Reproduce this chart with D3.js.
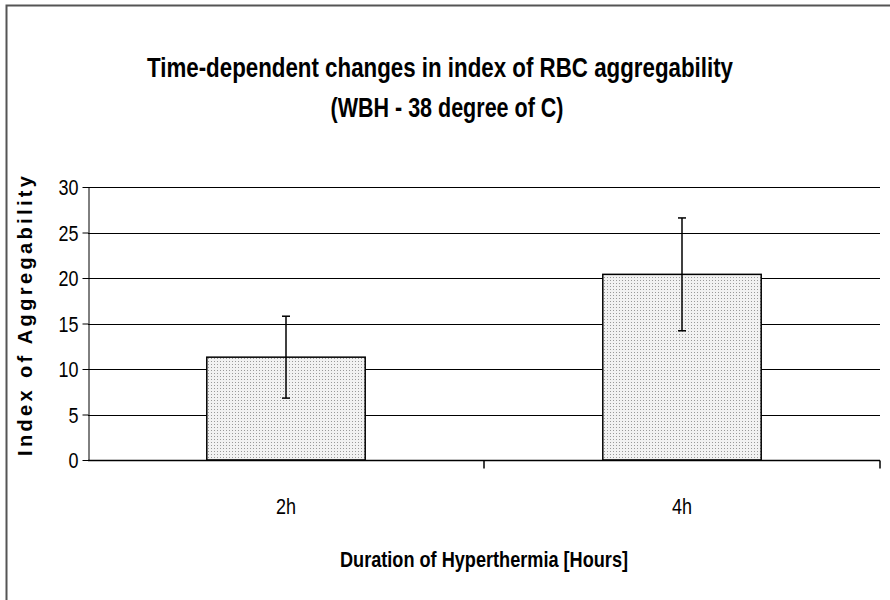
<!DOCTYPE html>
<html>
<head>
<meta charset="utf-8">
<script src="https://cdn.jsdelivr.net/npm/d3@7"></script>
<style>
  body { margin: 0; background: #fff; }
  svg { display: block; }
</style>
</head>
<body>
<svg id="chart" width="890" height="600"></svg>
<script>
// data
var categories = ['2h', '4h'];
var means = [11.3, 20.4];
var errors = [4.5, 6.2];
var yTicks = [0, 5, 10, 15, 20, 25, 30];

var narrow = '"Liberation Sans Narrow", "Arial Narrow", "Liberation Sans", Arial, sans-serif';

var svg = d3.select('#chart');
var plotLeft = 88, plotRight = 880, plotTop = 187, plotBottom = 460;

// outer frame (right / bottom edges fall outside the picture)
svg.append('rect')
    .attr('x', 6.5).attr('y', 5.5)
    .attr('width', 900).attr('height', 700)
    .attr('fill', 'none').attr('stroke', '#555').attr('stroke-width', 2);

var defs = svg.append('defs');
var pat = defs.append('pattern')
    .attr('id', 'dots').attr('patternUnits', 'userSpaceOnUse')
    .attr('width', 3).attr('height', 3);
pat.append('rect').attr('width', 3).attr('height', 3).attr('fill', '#f2f2f2');
pat.append('rect').attr('x', 1).attr('y', 1).attr('width', 1).attr('height', 1).attr('fill', '#9a9a9a');

var x = d3.scaleBand().domain(categories).range([plotLeft, plotRight]).padding(0);
var y = d3.scaleLinear().domain([0, 30]).range([plotBottom, plotTop]);

// gridlines
svg.append('g').selectAll('line').data(yTicks.slice(1)).join('line')
    .attr('x1', plotLeft).attr('x2', plotRight)
    .attr('y1', function(d) { return Math.round(y(d)) + 0.5; })
    .attr('y2', function(d) { return Math.round(y(d)) + 0.5; })
    .attr('stroke', '#000').attr('stroke-width', 1);

// bars
var barW = x.bandwidth() * 0.4;
svg.append('g').selectAll('rect').data(categories).join('rect')
    .attr('x', function(d) { return x(d) + (x.bandwidth() - barW) / 2; })
    .attr('y', function(d, i) { return y(means[i]); })
    .attr('width', barW)
    .attr('height', function(d, i) { return y(0) - y(means[i]); })
    .attr('fill', 'url(#dots)')
    .attr('stroke', '#000').attr('stroke-width', 1.5);

// error bars
var eb = svg.append('g').attr('stroke', '#000').attr('stroke-width', 1.5);
categories.forEach(function(c, i) {
    var cx = x(c) + x.bandwidth() / 2;
    eb.append('line').attr('x1', cx).attr('x2', cx)
        .attr('y1', y(means[i] + errors[i])).attr('y2', y(means[i] - errors[i]));
    [means[i] + errors[i], means[i] - errors[i]].forEach(function(v) {
        eb.append('line').attr('x1', cx - 4).attr('x2', cx + 4)
            .attr('y1', y(v)).attr('y2', y(v));
    });
});

// y axis
var yAxis = svg.append('g').attr('transform', 'translate(' + (plotLeft + 0.5) + ',0)')
    .call(d3.axisLeft(y).tickValues(yTicks).tickSize(6).tickSizeOuter(0).tickPadding(4));
yAxis.select('.domain').attr('stroke', '#000');
yAxis.selectAll('line').attr('stroke', '#000');
yAxis.selectAll('text').attr('font-family', narrow).attr('font-size', 22).attr('fill', '#000')
    .attr('dy', '0.36em').attr('textLength', function(d) { return d < 10 ? 10 : 20; })
    .attr('lengthAdjust', 'spacingAndGlyphs');

// x axis
var xAxis = svg.append('g').attr('transform', 'translate(0,' + (plotBottom + 0.5) + ')');
xAxis.append('line').attr('x1', plotLeft).attr('x2', plotRight).attr('stroke', '#000').attr('stroke-width', 1.5);
xAxis.selectAll('.tk').data(categories).join('line')
    .attr('x1', function(d) { return x(d) + x.bandwidth(); })
    .attr('x2', function(d) { return x(d) + x.bandwidth(); })
    .attr('y1', 0).attr('y2', 8).attr('stroke', '#000').attr('stroke-width', 1.5);
xAxis.selectAll('text').data(categories).join('text')
    .attr('x', function(d) { return x(d) + x.bandwidth() / 2; })
    .attr('y', 53)
    .attr('text-anchor', 'middle')
    .attr('font-family', narrow).attr('font-size', 22)
    .attr('textLength', 20).attr('lengthAdjust', 'spacingAndGlyphs')
    .text(function(d) { return d; });

// titles
svg.append('text').attr('x', 440).attr('y', 77).attr('text-anchor', 'middle')
    .attr('font-family', narrow).attr('font-size', 27).attr('font-weight', 'bold')
    .attr('textLength', 586).attr('lengthAdjust', 'spacingAndGlyphs')
    .text('Time-dependent changes in index of RBC aggregability');
svg.append('text').attr('x', 447).attr('y', 117).attr('text-anchor', 'middle')
    .attr('font-family', narrow).attr('font-size', 27).attr('font-weight', 'bold')
    .attr('textLength', 233).attr('lengthAdjust', 'spacingAndGlyphs')
    .text('(WBH - 38 degree of C)');

svg.append('text').attr('x', 484).attr('y', 567).attr('text-anchor', 'middle')
    .attr('font-family', narrow).attr('font-size', 22).attr('font-weight', 'bold')
    .attr('textLength', 288).attr('lengthAdjust', 'spacingAndGlyphs')
    .text('Duration of Hyperthermia [Hours]');

svg.append('text')
    .attr('transform', 'translate(32,316) rotate(-90)')
    .attr('text-anchor', 'middle')
    .attr('font-family', 'Liberation Sans, Arial, sans-serif')
    .attr('font-size', 20).attr('font-weight', 'bold')
    .attr('textLength', 280).attr('lengthAdjust', 'spacing')
    .text('Index of Aggregability');
</script>
</body>
</html>
